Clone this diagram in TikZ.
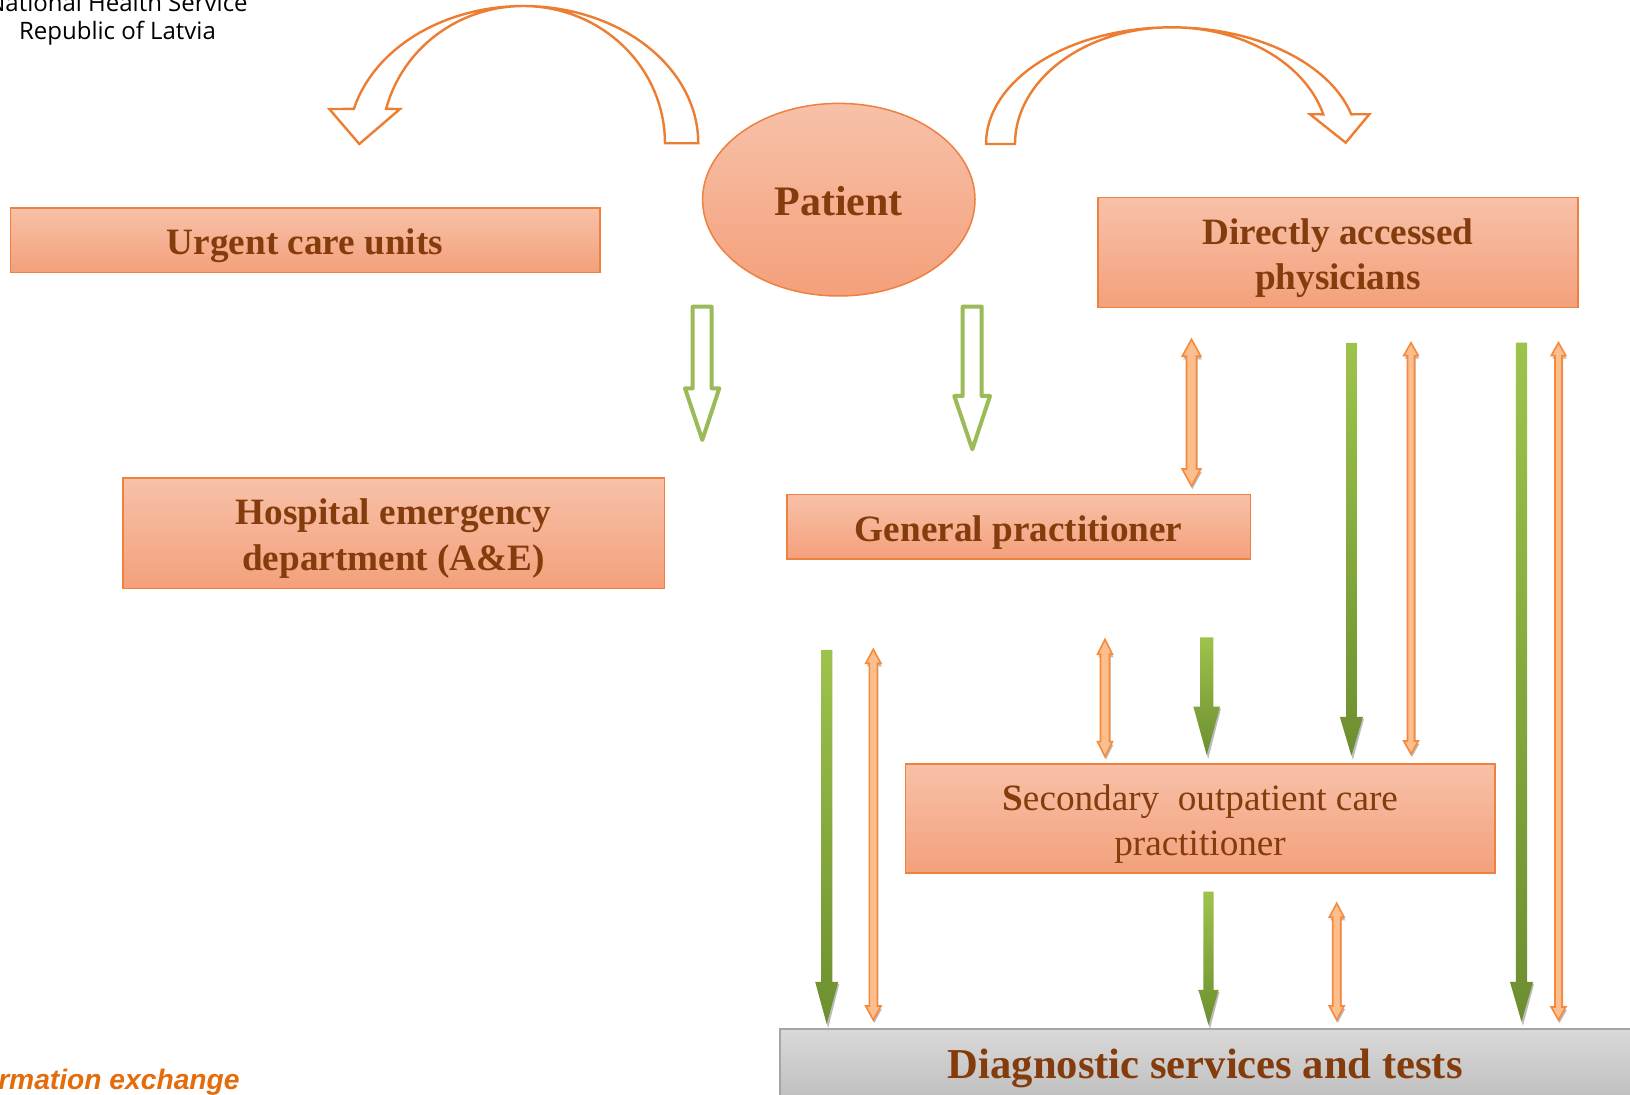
\documentclass[tikz,border=0pt]{standalone}
\usepackage{fontspec}
\setmainfont{Liberation Serif}
\newfontfamily\hdrfont{Open Sans}
\newfontfamily\lblsans{Liberation Sans}
\usetikzlibrary{shapes.geometric}
\definecolor{boxtop}{HTML}{F7C1A8}
\definecolor{boxbot}{HTML}{F4A07B}
\definecolor{boxline}{HTML}{EE8040}
\definecolor{txtbrown}{HTML}{843C0C}
\definecolor{curvline}{HTML}{ED7D31}
\definecolor{grline}{HTML}{9BBB59}
\definecolor{grtop}{HTML}{9EC34C}
\definecolor{grbot}{HTML}{6D8E30}
\definecolor{orfill}{HTML}{FDBE8E}
\definecolor{orline}{HTML}{F58A3C}
\definecolor{shadowgray}{HTML}{8F8F8F}
\definecolor{diagtop}{HTML}{D9D9D9}
\definecolor{diagbot}{HTML}{BDBDBD}
\definecolor{diagline}{HTML}{A5A5A5}
\definecolor{infoorange}{HTML}{E46C0A}
\newcommand\dgboxfont{\fontsize{18.6}{22.9}\selectfont\bfseries}
\newcommand\lowtext[2]{\raisebox{-#1}[\height][\depth]{\begin{tabular}{@{}c@{}}#2\end{tabular}}}
\newcommand\mkgreenarrow[6]{%
  \fill[shadowgray,opacity=.6] ({#1+#6+1},{#3+2}) -- ({#1+1.5},{#4+4}) -- ({#1-#6+1},{#3+2}) -- cycle;
  \shade[top color=grtop,bottom color=grbot] ({#1-#5},{#2}) -- ({#1+#5},{#2}) -- ({#1+#5},{#3}) -- ({#1+#6},{#3}) -- ({#1},{#4}) -- ({#1-#6},{#3}) -- ({#1-#5},{#3}) -- cycle;}
\newcommand\mkorangearrow[6]{%
  \fill[shadowgray,opacity=.6,shift={(1,3)}] ({#1},{#2}) -- ({#1+#5},{#2+#6}) -- ({#1+#4},{#2+#6}) -- ({#1+#4},{#3-#6}) -- ({#1+#5},{#3-#6}) -- ({#1},{#3}) -- ({#1-#5},{#3-#6}) -- ({#1-#4},{#3-#6}) -- ({#1-#4},{#2+#6}) -- ({#1-#5},{#2+#6}) -- cycle;
  \filldraw[orarrow] ({#1},{#2}) -- ({#1+#5},{#2+#6}) -- ({#1+#4},{#2+#6}) -- ({#1+#4},{#3-#6}) -- ({#1+#5},{#3-#6}) -- ({#1},{#3}) -- ({#1-#5},{#3-#6}) -- ({#1-#4},{#3-#6}) -- ({#1-#4},{#2+#6}) -- ({#1-#5},{#2+#6}) -- cycle;}
\tikzset{
  box/.style={rectangle, top color=boxtop, bottom color=boxbot, draw=boxline, line width=0.75pt, inner sep=0pt, align=center, text=txtbrown, font=\dgboxfont},
  diagbox/.style={rectangle, top color=diagtop, bottom color=diagbot, draw=diagline, line width=0.9pt, inner sep=0pt, align=center, text=txtbrown, font=\fontsize{21.3}{25}\selectfont\bfseries},
  curvarrow/.style={draw=curvline, line width=1.2pt, fill=white, line join=miter},
  hollowarrow/.style={draw=grline, line width=2pt, fill=white, line join=round},
  orarrow/.style={fill=orfill, draw=orline, line width=0.8pt, line join=miter},
}
\begin{document}
\begin{tikzpicture}[x=0.5pt,y=-0.5pt]
\useasboundingbox (0,0) rectangle (1630,1095);
\clip (0,0) rectangle (1630,1095);
\fill[white] (0,0) rectangle (1630,1095);

% header texts
\node[font=\hdrfont\fontsize{12}{14}\selectfont, anchor=base, inner sep=0pt] (nhs1) at (117.5,11.2) {National Health Service};
\node[font=\hdrfont\fontsize{12}{14}\selectfont, anchor=base, inner sep=0pt] (nhs2) at (117.5,39.8) {Republic of Latvia};
\node[font=\lblsans\bfseries\itshape\fontsize{14.1}{17}\selectfont, text=infoorange, anchor=base east, inner sep=0pt] (info) at (240,1090) {Information exchange};

% curved arrows from patient
\path[curvarrow] (698.3,143.3) -- plot[domain=0:-165.5, samples=60, variable=\t] ({523.3+175*cos(\t)},{143.3+137.3*sin(\t)})
  -- (329.3,109) -- (359.3,144) -- (400,109)
  -- plot[domain=-165.5:0, samples=60, variable=\t] ({523.3+141.7*cos(\t)},{143.3+137.3*sin(\t)}) -- cycle;
\path[curvarrow] (986,144) -- plot[domain=-180:-14.74, samples=60, variable=\t] ({1171.7+185.7*cos(\t)},{144+116.7*sin(\t)})
  -- (1369.3,114.3) -- (1345.7,142.7) -- (1310,114.3)
  -- plot[domain=-14.74:-180, samples=60, variable=\t] ({1171.7+156.7*cos(\t)},{144+116.7*sin(\t)}) -- cycle;

% boxes
\node[box, minimum width=294.7pt, minimum height=32.25pt] (urgent) at (305.1,240.2) {\lowtext{2.6pt}{Urgent care units}};
\node[ellipse, top color=boxtop, bottom color=boxbot, draw=boxline, line width=0.75pt, inner sep=0pt,
      minimum width=136.2pt, minimum height=96.3pt, text=txtbrown, font=\fontsize{21}{25}\selectfont\bfseries] (patient) at (838.8,199.7) {\lowtext{3.1pt}{Patient}};
\node[box, minimum width=240.15pt, minimum height=55.1pt] (direct) at (1337.9,252.6) {\lowtext{2.6pt}{Directly accessed\\physicians}};
\node[box, minimum width=270.75pt, minimum height=55.1pt] (hosp) at (393.5,533.3) {\lowtext{2.6pt}{Hospital emergency\\department (A\&E)}};
\node[box, minimum width=231.8pt, minimum height=32.25pt] (gp) at (1018.7,527) {\lowtext{2.8pt}{General practitioner}};
\node[box, minimum width=294.7pt, minimum height=54.6pt, font=\fontsize{18.6}{22.4}\selectfont] (sec) at (1200.1,818.6) {\lowtext{2.6pt}{{\bfseries S}econdary\ \ outpatient care\\practitioner}};
\node[diagbox, minimum width=425.7pt, minimum height=38pt] (diag) at (1205.3,1067) {\lowtext{1pt}{Diagnostic services and tests}};

% hollow green arrows
\path[hollowarrow] (692.7,306.7) -- (711.7,306.7) -- (711.7,388.3) -- (719.3,388.3) -- (702.3,440) -- (685,388.3) -- (692.7,388.3) -- cycle;
\path[hollowarrow] (962.7,306.7) -- (981.7,306.7) -- (981.7,396) -- (990,396) -- (972.3,449.3) -- (954.3,396) -- (962.7,396) -- cycle;

% solid green arrows
\mkgreenarrow{826.7}{650}{982}{1024}{5.7}{11.5}
\mkgreenarrow{1206.7}{637.3}{706.7}{755}{6.7}{13.3}
\mkgreenarrow{1351.4}{343}{717}{755.7}{5.4}{11.5}
\mkgreenarrow{1208.5}{891.7}{990}{1025}{5.2}{10}
\mkgreenarrow{1521.5}{342.7}{982}{1021.7}{5.7}{11.5}

% orange double arrows
\mkorangearrow{1191.5}{339.3}{486}{5}{9.3}{17}
\mkorangearrow{1411}{342.7}{754}{3.5}{7.3}{13}
\mkorangearrow{1558.5}{342.7}{1020}{3.5}{7.3}{13}
\mkorangearrow{873.3}{649.3}{1020}{4}{7.6}{14}
\mkorangearrow{1105}{639.3}{756.7}{4.5}{7.4}{15}
\mkorangearrow{1336.7}{903.3}{1020}{4}{7.4}{14}
\end{tikzpicture}
\end{document}
